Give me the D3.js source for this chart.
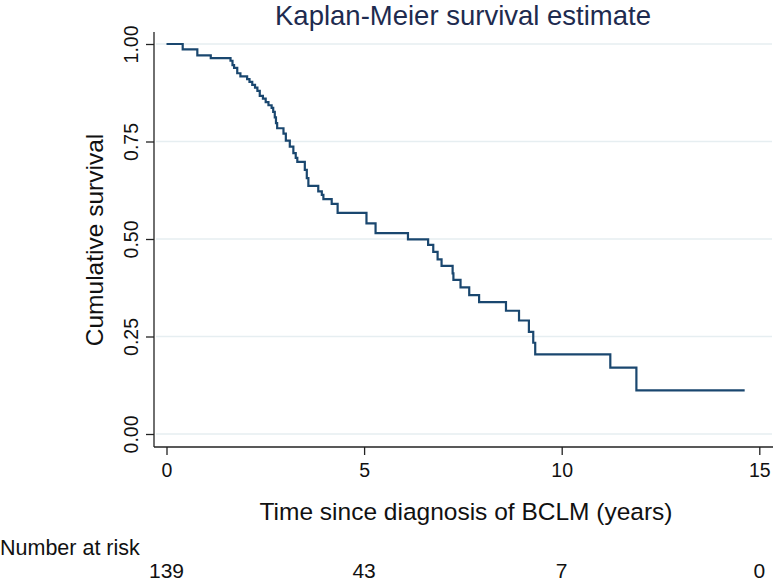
<!DOCTYPE html>
<html>
<head>
<meta charset="utf-8">
<script src="https://cdn.jsdelivr.net/npm/d3@7"></script>
<style>
  html, body { margin: 0; padding: 0; background: #fff; }
  svg { display: block; }
  text { font-family: "Liberation Sans", Arial, Helvetica, sans-serif; }
</style>
</head>
<body>
<svg id="chart" width="774" height="583"></svg>
<script>
// ---- data ----
const eventTimes = [0, 0.41, 0.78, 1.12, 1.62, 1.67, 1.71, 1.79, 1.87, 2.04, 2.10, 2.17, 2.24, 2.30, 2.36, 2.44, 2.51, 2.58, 2.66, 2.70, 2.74, 2.77, 2.80, 2.96, 3.02, 3.12, 3.21, 3.27, 3.31, 3.50, 3.55, 3.59, 3.84, 3.93, 3.97, 4.18, 4.33, 5.06, 5.29, 6.11, 6.62, 6.75, 6.86, 6.96, 7.24, 7.26, 7.44, 7.66, 7.91, 8.59, 8.92, 9.17, 9.28, 9.33, 11.23, 11.89, 14.63];
const survival   = [1.000, 0.986, 0.971, 0.964, 0.957, 0.946, 0.939, 0.925, 0.917, 0.910, 0.903, 0.895, 0.888, 0.880, 0.867, 0.860, 0.851, 0.843, 0.836, 0.826, 0.812, 0.797, 0.784, 0.770, 0.752, 0.737, 0.720, 0.708, 0.698, 0.677, 0.656, 0.636, 0.622, 0.613, 0.602, 0.590, 0.567, 0.540, 0.515, 0.499, 0.485, 0.467, 0.448, 0.431, 0.412, 0.395, 0.376, 0.356, 0.338, 0.316, 0.291, 0.262, 0.234, 0.204, 0.170, 0.112, 0.112];
const xTicks = [0, 5, 10, 15];
const yTicks = [0, 0.25, 0.5, 0.75, 1];
const riskTimes = [0, 5, 10, 15];
const riskCounts = [139, 43, 7, 0];
const titleText = "Kaplan-Meier survival estimate";
const xTitle = "Time since diagnosis of BCLM (years)";
const yTitle = "Cumulative survival";
const riskLabel = "Number at risk";

// ---- layout ----
const svg = d3.select("#chart");
const x = d3.scaleLinear().domain([0, 15]).range([166.5, 759.3]);
const y = d3.scaleLinear().domain([0, 1]).range([434, 44]);
const axisY = 447, axisX = 154;
const navy = "#1a476f";

// gridlines
svg.append("g").selectAll("line").data(yTicks).join("line")
  .attr("x1", axisX + 2).attr("x2", 772)
  .attr("y1", d => y(d)).attr("y2", d => y(d))
  .attr("stroke", "#e6eef1").attr("stroke-width", 1.6);

// y axis
const yAxis = d3.axisLeft(y).tickValues(yTicks).tickFormat(d3.format(".2f")).tickSize(8).tickPadding(6);
const gy = svg.append("g").attr("transform", `translate(${axisX},0)`).call(yAxis);
gy.select(".domain").attr("d", `M0,32V${axisY}`).attr("stroke", "#222").attr("stroke-width", 1.3);
gy.selectAll(".tick line").attr("stroke", "#222").attr("stroke-width", 1.3);
gy.selectAll(".tick text")
  .attr("font-size", 19.5).attr("fill", "#111")
  .attr("text-anchor", "middle")
  .attr("x", null).attr("dy", null)
  .attr("transform", "translate(-16,0) rotate(-90)");

// x axis
const xAxis = d3.axisBottom(x).tickValues(xTicks).tickSize(8).tickPadding(6);
const gx = svg.append("g").attr("transform", `translate(0,${axisY})`).call(xAxis);
gx.select(".domain").attr("d", `M${axisX},0H773`).attr("stroke", "#222").attr("stroke-width", 1.3);
gx.selectAll(".tick line").attr("stroke", "#222").attr("stroke-width", 1.3);
gx.selectAll(".tick text").attr("font-size", 19.5).attr("fill", "#111").attr("y", 16).attr("dy", "0.71em");

// KM curve
const pts = eventTimes.map((t, i) => [t, survival[i]]);
const line = d3.line().x(d => x(d[0])).y(d => y(d[1])).curve(d3.curveStepAfter);
svg.append("path").datum(pts).attr("d", line)
  .attr("fill", "none").attr("stroke", navy).attr("stroke-width", 2.2);

// title
svg.append("text").attr("x", 463).attr("y", 25).attr("text-anchor", "middle")
  .attr("font-size", 27.5).attr("fill", "#1e2b4f").text(titleText);

// axis titles
svg.append("text").attr("x", 466).attr("y", 520).attr("text-anchor", "middle")
  .attr("font-size", 24.5).attr("fill", "#111").text(xTitle);
svg.append("text").attr("transform", "translate(103,240) rotate(-90)").attr("text-anchor", "middle")
  .attr("font-size", 24.5).attr("fill", "#111").text(yTitle);

// risk table
svg.append("text").attr("x", 0).attr("y", 555).attr("font-size", 21.5).attr("fill", "#111").text(riskLabel);
svg.append("g").selectAll("text").data(riskTimes).join("text")
  .attr("x", d => x(d)).attr("y", 578).attr("text-anchor", "middle")
  .attr("font-size", 21).attr("fill", "#111")
  .text((d, i) => riskCounts[i]);
</script>
</body>
</html>
